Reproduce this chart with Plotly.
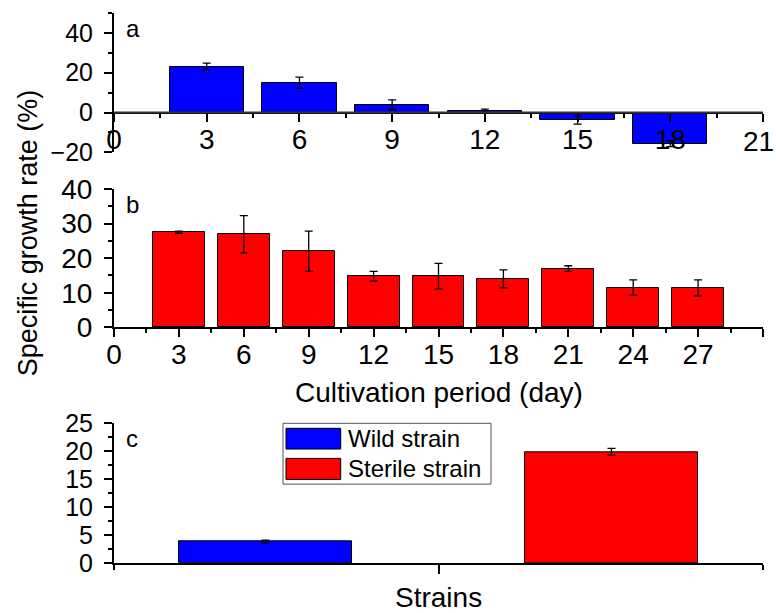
import plotly.graph_objects as go

# ---- data ----
days_a = [3, 6, 9, 12, 15, 18]
wild_rate = [23.0, 15.0, 3.9, 0.7, -3.8, -15.6]
wild_err = [1.8, 2.8, 2.4, 1.0, 2.0, 1.5]

days_b = [3, 6, 9, 12, 15, 18, 21, 24, 27]
sterile_rate = [27.5, 26.9, 22.0, 14.8, 14.8, 14.0, 17.0, 11.5, 11.4]
sterile_err = [0.3, 5.4, 5.8, 1.4, 3.7, 2.6, 0.8, 2.2, 2.3]

strains = ["Wild strain", "Sterile strain"]
strain_rate = [3.8, 19.9]
strain_err = [0.3, 0.6]
strain_colors = ["#0000ff", "#ff0000"]

xticks_a = [0, 3, 6, 9, 12, 15, 18, 21]
xlabels_a = ["0", "3", "6", "9", "12", "15", "18", ""]   # "21" drawn at the edge below
xticks_b = [0, 3, 6, 9, 12, 15, 18, 21, 24, 27, 30]
xlabels_b = ["0", "3", "6", "9", "12", "15", "18", "21", "24", "27", ""]

FONT = "Liberation Sans, Arial, sans-serif"
W, H = 776, 613
ML, MR, MT, MB = 114, 13, 13, 50
PW = W - ML - MR
PH = H - MT - MB

def py(pix):  # pixel y -> paper
    return (H - MB - pix) / PH

dom_a = [py(152.3), 1.0]
dom_b = [py(327.3), py(189)]
dom_c = [0.0, py(423.3)]

fig = go.Figure()

err_style = dict(type="data", color="black", thickness=1.3, width=4)
bar_line = dict(color="black", width=1)

fig.add_trace(go.Bar(x=days_a, y=wild_rate, width=2.4,
                     error_y=dict(array=wild_err, **err_style),
                     marker=dict(color="#0000ff", line=bar_line),
                     xaxis="x", yaxis="y", showlegend=False))
fig.add_trace(go.Bar(x=days_b, y=sterile_rate, width=2.4,
                     error_y=dict(array=sterile_err, **err_style),
                     marker=dict(color="#ff0000", line=bar_line),
                     xaxis="x2", yaxis="y2", showlegend=False))
pos_c = list(range(len(strains)))
fig.add_trace(go.Bar(x=pos_c, y=strain_rate, width=0.5,
                     error_y=dict(array=strain_err, **err_style),
                     marker=dict(color=strain_colors, line=bar_line),
                     xaxis="x3", yaxis="y3", showlegend=False))

def tf(size):
    return dict(family=FONT, size=size, color="black")

def axis(**kw):
    d = dict(showline=True, linecolor="black", linewidth=2, ticks="outside",
             ticklen=8, tickwidth=1.5, tickcolor="black", showgrid=False, zeroline=False,
             tickfont=tf(28), mirror=False, automargin=False, ticklabeloverflow="allow")
    d.update(kw)
    return d

def minor(dt, **kw):
    d = dict(ticks="outside", ticklen=4, tickwidth=1.5, tickcolor="black", dtick=dt, tick0=0)
    d.update(kw)
    return d

ya_range = [-20, 50]
zero_pos_a = dom_a[0] + (dom_a[1] - dom_a[0]) * (0 - ya_range[0]) / (ya_range[1] - ya_range[0])
xc_range = [-0.438, 1.438]

fig.update_layout(
    width=W, height=H, margin=dict(l=ML, r=MR, t=MT, b=MB, autoexpand=False),
    paper_bgcolor="white", plot_bgcolor="white", bargap=0,
    font=dict(family=FONT, color="black"),
    xaxis=axis(domain=[0, 1], range=[0, 21], anchor="free", position=zero_pos_a,
               tickmode="array", tickvals=xticks_a, ticktext=xlabels_a, minor=minor(1.5),
               ticklabelstandoff=-6),
    yaxis=axis(domain=dom_a, range=ya_range, anchor="x", tickfont=tf(25),
               tickmode="array", tickvals=[-20, 0, 20, 40], minor=minor(10),
               ticklabelstandoff=6),
    xaxis2=axis(domain=[0, 1], range=[0, 30], anchor="y2",
                tickmode="array", tickvals=xticks_b, ticktext=xlabels_b, minor=minor(1.5),
                ticklabelstandoff=-7),
    yaxis2=axis(domain=dom_b, range=[0, 40], anchor="x2",
                tickmode="array", tickvals=[0, 10, 20, 30, 40], minor=minor(5),
                ticklabelstandoff=6),
    xaxis3=axis(domain=[0, 1], range=xc_range, anchor="y3", ticklen=9,
                tickmode="array", tickvals=[0.5], ticktext=[""],
                minor=dict(ticks="outside", ticklen=5, tickwidth=1.5, tickcolor="black",
                           tickmode="array", tickvals=xc_range)),
    yaxis3=axis(domain=dom_c, range=[0, 25], anchor="x3", tickfont=tf(25),
                tickmode="array", tickvals=[0, 5, 10, 15, 20, 25], minor=minor(2.5),
                ticklabelstandoff=6),
)

# last tick label of panel a, kept inside the page edge
fig.add_annotation(text=str(xticks_a[-1]), xref="x", yref="paper", x=xticks_a[-1],
                   y=py(141.5), xanchor="right", yanchor="middle", xshift=13,
                   showarrow=False, font=tf(28))

# zero line across panel a
fig.add_shape(type="line", xref="x domain", yref="y", x0=0, x1=1, y0=0, y1=0,
              line=dict(color="#333333", width=2))

# panel labels
for txt, xr, yr in [("a", "x domain", "y domain"), ("b", "x2 domain", "y2 domain"),
                    ("c", "x3 domain", "y3 domain")]:
    fig.add_annotation(text=txt, xref=xr, yref=yr, x=(124 - ML) / PW, y=1.0,
                       xanchor="left", yanchor="top", showarrow=False, font=tf(24))

fig.add_annotation(text="Specific growth rate (%)", xref="paper", yref="paper",
                   x=(28 - ML) / PW, y=py(233.3), textangle=-90,
                   xanchor="center", yanchor="middle", showarrow=False, font=tf(27))
fig.add_annotation(text="Cultivation period (day)", xref="paper", yref="paper",
                   x=0.5, y=py(392), xanchor="center", yanchor="middle",
                   showarrow=False, font=tf(28))
fig.add_annotation(text="Strains", xref="paper", yref="paper",
                   x=0.5, y=py(597), xanchor="center", yanchor="middle",
                   showarrow=False, font=tf(28))

# manual legend in panel c
def dx(pix):
    return (pix - ML) / PW

def dy(pix):
    return (562.7 - pix) / (562.7 - 423.3)

fig.add_shape(type="rect", xref="x3 domain", yref="y3 domain",
              x0=dx(283), x1=dx(491), y0=dy(484), y1=dy(423.3),
              line=dict(color="#555555", width=1), fillcolor="white")
sw_y = [(428.3, 449.0), (458.3, 479.3)]
for name, col, (yt, yb) in zip(strains, strain_colors, sw_y):
    fig.add_shape(type="rect", xref="x3 domain", yref="y3 domain",
                  x0=dx(286), x1=dx(340.7), y0=dy(yb), y1=dy(yt),
                  line=dict(color="black", width=1), fillcolor=col)
    fig.add_annotation(text=name, xref="x3 domain", yref="y3 domain",
                       x=dx(346), y=dy((yt + yb) / 2), xanchor="left", yanchor="middle",
                       showarrow=False, font=tf(24))

fig.write_html("out.html")
